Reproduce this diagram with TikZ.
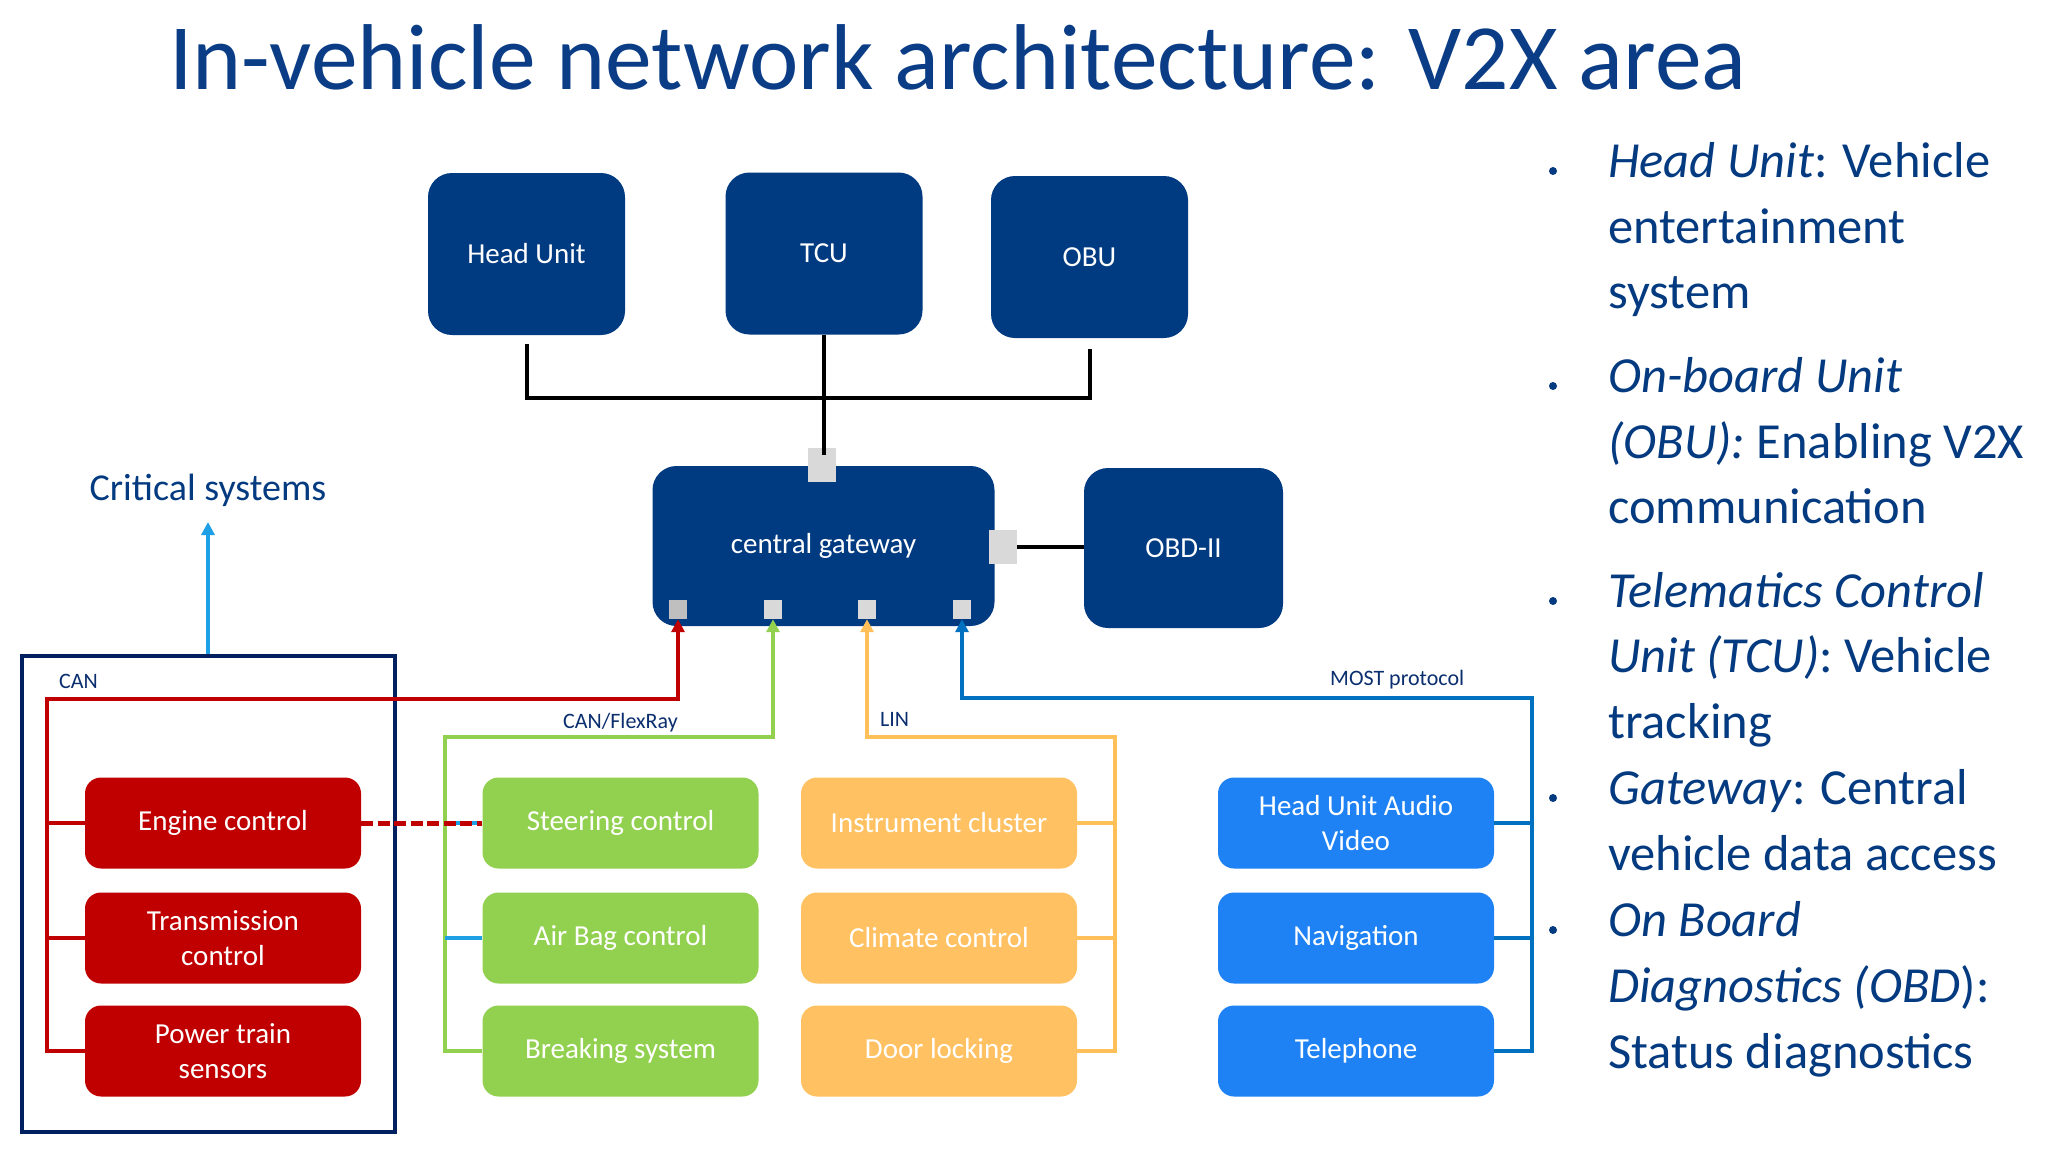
\documentclass[tikz,border=0pt]{standalone}
\usepackage{fontspec}
\setmainfont{Carlito}
\usetikzlibrary{arrows.meta}
\definecolor{gwblue}{HTML}{003A80}
\definecolor{titleblue}{HTML}{0B3D87}
\definecolor{txtblue}{HTML}{043A80}
\definecolor{lblblue}{HTML}{0A2E6E}
\definecolor{navy}{HTML}{002060}
\definecolor{ecured}{HTML}{C00000}
\definecolor{ecugreen}{HTML}{92D050}
\definecolor{ecuorange}{HTML}{FFC162}
\definecolor{linorange}{HTML}{FFC05A}
\definecolor{ecublue}{HTML}{1E82F5}
\definecolor{mostblue}{HTML}{0070C0}
\definecolor{critblue}{HTML}{1EA0E6}
\definecolor{portgray}{HTML}{D9D9D9}
\definecolor{portdark}{HTML}{BFBFBF}
\newcommand\bxfont{\fontsize{29}{35}\selectfont}
\newcommand\lblfont{\fontsize{22}{26}\selectfont}
\newcommand\bulfont{\fontsize{50.5}{60}\selectfont}
\newcommand\ttlfont{\fontsize{93.5}{110}\selectfont}
\newcommand\critfont{\fontsize{38}{44}\selectfont}
\tikzset{
  topbox/.style={rounded corners=24pt, fill=gwblue, text=white, font=\bxfont,
    minimum width=197pt, minimum height=162pt, inner sep=0pt},
  ecu/.style={rounded corners=16pt, text=white, font=\bxfont, align=center,
    minimum width=276pt, minimum height=91pt, inner sep=0pt},
  portbox/.style={fill=portgray, inner sep=0pt, draw=none},
  blk/.style={draw=black, line width=4pt},
  tip/.style={-{Triangle[width=13pt,length=13pt]}},
  redbus/.style={draw=ecured, line width=4.5pt},
  greenbus/.style={draw=ecugreen, line width=4.5pt},
  orangebus/.style={draw=linorange, line width=4pt},
  bluebus/.style={draw=mostblue, line width=4pt},
  critline/.style={draw=critblue, line width=4pt},
  reddash/.style={draw=ecured, line width=5pt, dash pattern=on 12pt off 4.5pt},
  lbl/.style={font=\lblfont, text=lblblue, anchor=base west, inner sep=0pt},
  bul/.style={font=\bulfont, text=txtblue, anchor=base west, inner sep=0pt},
}
\begin{document}
\begin{tikzpicture}[x=1pt,y=-1pt]
\useasboundingbox (0,0) rectangle (2048,1152);
\fill[white] (0,0) rectangle (2048,1152);

% title
\node[font=\ttlfont, text=titleblue, anchor=base west, inner sep=0pt] (title) at (169,89)
  {In-vehicle network architecture: V2X area};

% top units
\node[topbox] (hu) at (526.5,254) {Head Unit};
\node[topbox] (tcu) at (824,253.5) {TCU};
\node[topbox] (obu) at (1089.5,257) {OBU};
\node[topbox, minimum width=342pt, minimum height=160pt] (gw) at (823.5,546) {central gateway};
\node[topbox, minimum width=199pt, minimum height=160pt] (obd) at (1183.5,548) {OBD-II};

% black links
\coordinate (jn) at (824,398);
\draw[blk] ([yshift=-9pt]hu.south) |- (jn) -| ([yshift=-11pt]obu.south);

% ports
\node[portbox, minimum width=28pt, minimum height=34pt] (ptop) at (822,465) {};
\node[portbox, minimum width=28pt, minimum height=34pt] (pright) at (1003,547) {};
\node[portbox, fill=portdark, minimum width=18pt, minimum height=19pt] (p1) at (678,609.5) {};
\node[portbox, minimum width=18pt, minimum height=19pt] (p2) at (773,609.5) {};
\node[portbox, minimum width=18pt, minimum height=19pt] (p3) at (867,609.5) {};
\node[portbox, minimum width=18pt, minimum height=19pt] (p4) at (962,609.5) {};

\coordinate (tcuend) at ([yshift=-7pt]ptop.north);
\draw[blk] (tcu.south) -- (tcu.south |- tcuend);
\draw[blk] (pright.east) -- (pright.east -| obd.west);

% critical systems box
\node[draw=navy, line width=4pt, minimum width=373pt, minimum height=476pt, inner sep=0pt] (canbox) at (208,894) {};
\node[font=\critfont, text=txtblue, inner sep=0pt] (crit) at (208,490) {Critical systems};
\coordinate (crittip) at (208,522);
\draw[critline, tip] (canbox.north) -- (crittip);

% ECUs
\node[ecu, fill=ecured] (eng) at (223,823) {Engine control};
\node[ecu, fill=ecured] (trans) at (223,938) {Transmission\\control};
\node[ecu, fill=ecured] (pts) at (223,1051) {Power train\\sensors};
\node[ecu, fill=ecugreen] (steer) at (620.5,823) {Steering control};
\node[ecu, fill=ecugreen] (airbag) at (620.5,938) {Air Bag control};
\node[ecu, fill=ecugreen] (brake) at (620.5,1051) {Breaking system};
\node[ecu, fill=ecuorange] (inst) at (939,823) {Instrument cluster};
\node[ecu, fill=ecuorange] (clim) at (939,938) {Climate control};
\node[ecu, fill=ecuorange] (door) at (939,1051) {Door locking};
\node[ecu, fill=ecublue] (huav) at (1356,823) {Head Unit Audio\\Video};
\node[ecu, fill=ecublue] (nav) at (1356,938) {Navigation};
\node[ecu, fill=ecublue] (tel) at (1356,1051) {Telephone};

% red CAN bus
\coordinate (rb) at (47,699);
\draw[redbus, tip] (pts.west) -| (rb) -| (p1.south);
\draw[redbus] (eng.west) -- (eng.west -| rb);
\draw[redbus] (trans.west) -- (trans.west -| rb);

% green CAN/FlexRay bus
\coordinate (gb) at (445,737);
\draw[greenbus, tip] (brake.west) -| (gb) -| (p2.south);
\draw[critline] (airbag.west) -- (airbag.west -| gb);
\draw[critline] (steer.west) -- (steer.west -| gb);
\draw[reddash] (eng.east) -- (steer.west);

% orange LIN bus
\coordinate (ob) at (1115,737);
\draw[orangebus, tip] (door.east) -| (ob) -| (p3.south);
\draw[orangebus] (inst.east) -- (inst.east -| ob);
\draw[orangebus] (clim.east) -- (clim.east -| ob);

% blue MOST bus
\coordinate (bb) at (1532,698);
\draw[bluebus, tip] (tel.east) -| (bb) -| (p4.south);
\draw[bluebus] (huav.east) -- (huav.east -| bb);
\draw[bluebus] (nav.east) -- (nav.east -| bb);

% bus labels
\node[lbl] (lcan) at (59,688) {CAN};
\node[lbl] (lflex) at (563,728) {CAN/FlexRay};
\node[lbl] (llin) at (880,726) {LIN};
\node[lbl] (lmost) at (1330,685) {MOST protocol};

% bullet list
\foreach \yy in {171,386,601,798,930} \fill[txtblue] (1553,\yy) circle (4pt);
\node[bul] (b1) at (1608,177) {\textit{Head Unit}: Vehicle};
\node[bul] (b2) at (1608,243) {entertainment};
\node[bul] (b3) at (1608,308) {system};
\node[bul] (b4) at (1608,392) {\textit{On-board Unit}};
\node[bul] (b5) at (1608,458) {\textit{(OBU):} Enabling V2X};
\node[bul] (b6) at (1608,523) {communication};
\node[bul] (b7) at (1608,607) {\textit{Telematics Control}};
\node[bul] (b8) at (1608,672) {\textit{Unit (TCU)}: Vehicle};
\node[bul] (b9) at (1608,738) {tracking};
\node[bul] (b10) at (1608,804) {\textit{Gateway}: Central};
\node[bul] (b11) at (1608,870) {vehicle data access};
\node[bul] (b12) at (1608,936) {\textit{On Board}};
\node[bul] (b13) at (1608,1002) {\textit{Diagnostics (OBD}):};
\node[bul] (b14) at (1608,1068) {Status diagnostics};
\end{tikzpicture}
\end{document}
